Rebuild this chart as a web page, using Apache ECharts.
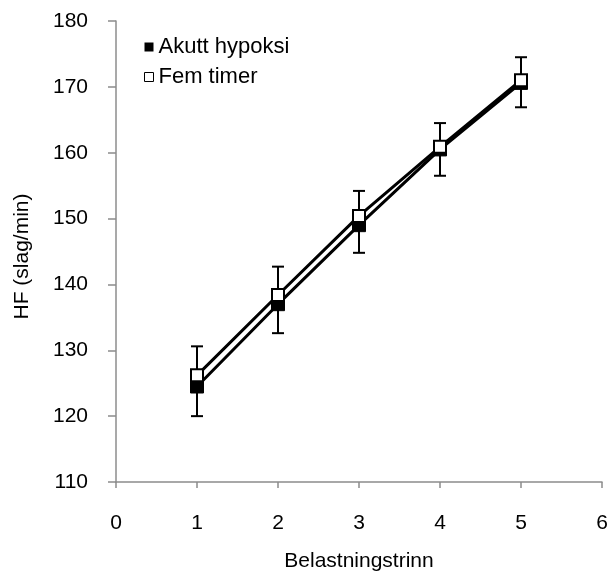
<!DOCTYPE html>
<html>
<head>
<meta charset="utf-8">
<script src="https://cdn.jsdelivr.net/npm/echarts@6/dist/echarts.min.js"></script>
<style>
  html, body { margin: 0; padding: 0; background: #fff; }
  #chart { width: 611px; height: 578px; }
</style>
</head>
<body>
<div id="chart"></div>
<script>
// belastningstrinn
var steps = [1, 2, 3, 4, 5];
// HF values
var akutt = [124.5, 137.0, 149.0, 160.5, 170.6];
var femTimer = [126.2, 138.4, 150.4, 160.9, 171.0];
// error bar lengths (akutt shown downwards, fem timer upwards)
var akuttErr = [4.5, 4.4, 4.2, 4.0, 3.7];
var femErr = [4.4, 4.3, 3.8, 3.6, 3.5];

var font = 'Liberation Sans, Arial, sans-serif';

function errData(vals, errs, dir) {
  return steps.map(function (x, i) {
    return [x, vals[i], vals[i] + dir * errs[i]];
  });
}

function renderErr(params, api) {
  var p0 = api.coord([api.value(0), api.value(1)]);
  var p1 = api.coord([api.value(0), api.value(2)]);
  var cap = 6;
  var st = { stroke: '#000', lineWidth: 2 };
  return {
    type: 'group',
    children: [
      { type: 'line', shape: { x1: p0[0], y1: p0[1], x2: p1[0], y2: p1[1] }, style: st },
      { type: 'line', shape: { x1: p1[0] - cap, y1: p1[1], x2: p1[0] + cap, y2: p1[1] }, style: st }
    ]
  };
}

var chart = echarts.init(document.getElementById('chart'));
chart.setOption({
  animation: false,
  grid: { left: 116, right: 9, top: 21, bottom: 96, outerBoundsMode: 'none' },
  legend: {
    orient: 'vertical',
    left: 139,
    top: 31,
    itemWidth: 9,
    itemHeight: 9,
    itemGap: 8,
    icon: 'rect',
    textStyle: { fontFamily: font, fontSize: 22, color: '#000' },
    data: [
      { name: 'Akutt hypoksi', itemStyle: { color: '#000', borderWidth: 0 } },
      { name: 'Fem timer', itemStyle: { color: '#fff', borderColor: '#000', borderWidth: 1 } }
    ]
  },
  xAxis: {
    type: 'value',
    min: 0, max: 6, interval: 1,
    name: 'Belastningstrinn',
    nameLocation: 'middle',
    nameGap: 69,
    nameTextStyle: { fontFamily: font, fontSize: 21, color: '#000' },
    axisLine: { lineStyle: { color: '#8c8c8c', width: 1.5 } },
    axisTick: { show: true, length: 6, lineStyle: { color: '#8c8c8c', width: 1.5 } },
    axisLabel: { fontFamily: font, fontSize: 21, color: '#000', margin: 31 },
    splitLine: { show: false }
  },
  yAxis: {
    type: 'value',
    min: 110, max: 180, interval: 10,
    name: 'HF (slag/min)',
    nameLocation: 'middle',
    nameGap: 83,
    nameRotate: 90,
    nameTextStyle: { fontFamily: font, fontSize: 21, color: '#000', padding: [0, 10, 0, 0] },
    axisLine: { show: true, lineStyle: { color: '#8c8c8c', width: 1.5 } },
    axisTick: { show: true, inside: false, length: 8, lineStyle: { color: '#8c8c8c', width: 1.5 } },
    axisLabel: { fontFamily: font, fontSize: 21, color: '#000', margin: 28 },
    splitLine: { show: false }
  },
  series: [
    {
      type: 'custom', name: 'errA', renderItem: renderErr, z: 1,
      data: errData(akutt, akuttErr, -1), encode: { x: 0, y: [1, 2] }, silent: true
    },
    {
      type: 'custom', name: 'errF', renderItem: renderErr, z: 1,
      data: errData(femTimer, femErr, 1), encode: { x: 0, y: [1, 2] }, silent: true
    },
    {
      name: 'Akutt hypoksi',
      type: 'line',
      z: 3,
      data: steps.map(function (x, i) { return [x, akutt[i]]; }),
      symbol: 'rect',
      symbolSize: 13,
      showAllSymbol: true,
      lineStyle: { color: '#000', width: 3 },
      itemStyle: { color: '#000', borderColor: '#000', borderWidth: 1 }
    },
    {
      name: 'Fem timer',
      type: 'line',
      z: 4,
      data: steps.map(function (x, i) { return [x, femTimer[i]]; }),
      symbol: 'rect',
      symbolSize: 12,
      showAllSymbol: true,
      lineStyle: { color: '#000', width: 3 },
      itemStyle: { color: '#fff', borderColor: '#000', borderWidth: 2 }
    }
  ]
});
</script>
</body>
</html>
